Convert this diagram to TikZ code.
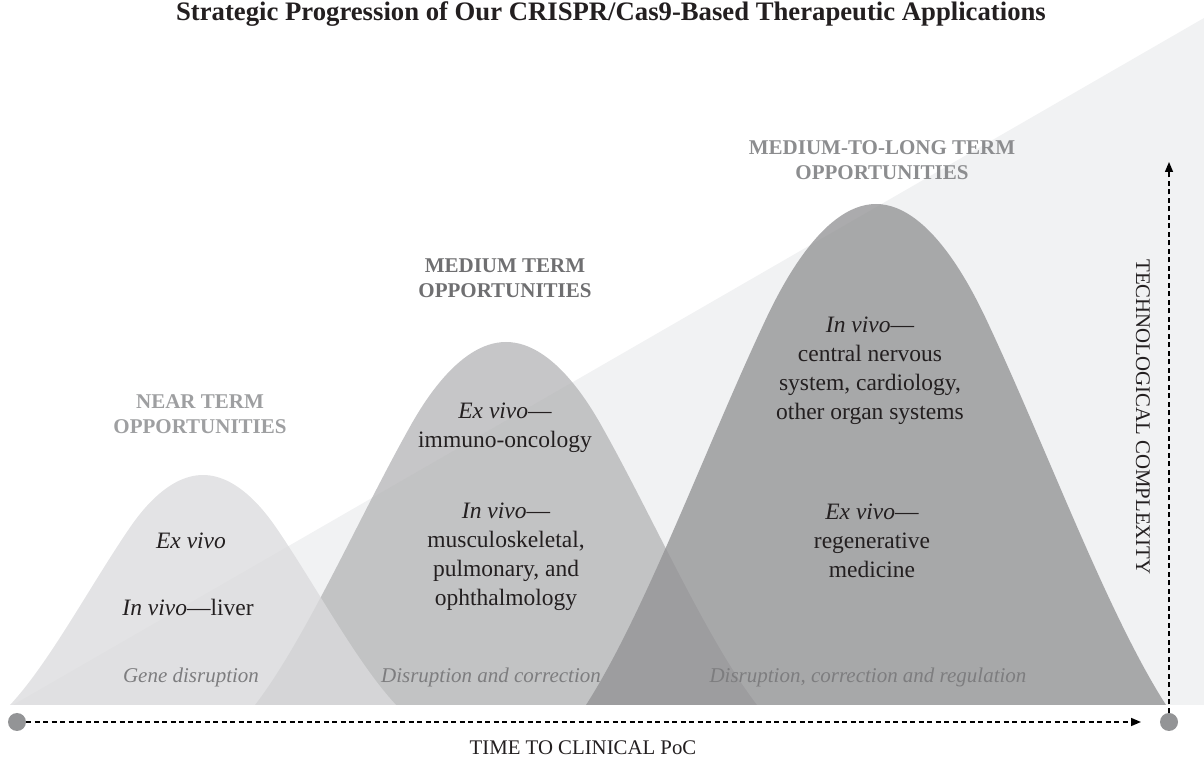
\documentclass[tikz,border=0pt]{standalone}
\usepackage{fontspec}
\setmainfont{Liberation Serif}
\usetikzlibrary{arrows.meta}

\definecolor{trianglegray}{RGB}{241,242,243}
\definecolor{neargray}{RGB}{219,219,221}
\definecolor{midgray}{RGB}{181,181,183}
\definecolor{longgray}{RGB}{146,146,148}
\definecolor{dotgray}{RGB}{147,148,150}
\definecolor{inkblack}{RGB}{35,31,32}
\definecolor{headnear}{RGB}{158,159,161}
\definecolor{headmid}{RGB}{111,111,113}
\definecolor{headlong}{RGB}{140,141,143}
\definecolor{taggray}{RGB}{125,125,127}

\tikzset{
  bodytext/.style={font=\fontsize{23.5}{29}\selectfont, text=inkblack, align=center, inner sep=0pt},
  headtext/.style={font=\fontsize{21}{25}\selectfont\bfseries, align=center, inner sep=0pt},
  tagtext/.style={font=\fontsize{21}{25}\selectfont\itshape, text=taggray, inner sep=0pt},
  axistext/.style={font=\fontsize{20.8}{25}\selectfont, text=inkblack, inner sep=0pt},
  enddot/.style={circle, fill=dotgray, minimum size=18pt, inner sep=0pt},
  axisline/.style={line width=1.5pt, dash pattern=on 5pt off 3.5pt, -{Triangle[length=10pt,width=8pt]}},
  bell/.style={fill opacity=0.77, draw=none},
}

% bell: centre, half width, height, colour
% flared flanks, parabolic cap
\newcommand{\bellshape}[4]{%
  \fill[bell, #4] ({#1-#2},52)
    .. controls ({#1-0.8*#2},{52+0.18*#3}) and ({#1-0.592*#2},{52+0.507*#3}) .. ({#1-0.392*#2},{52+0.755*#3})
    parabola bend ({#1},{52+#3}) ({#1+0.392*#2},{52+0.755*#3})
    .. controls ({#1+0.592*#2},{52+0.507*#3}) and ({#1+0.8*#2},{52+0.18*#3}) .. ({#1+#2},52)
    -- cycle;
}

\begin{document}
\begin{tikzpicture}[x=1pt,y=1pt]
\useasboundingbox (0,0) rectangle (1204,757);
\def\baseY{52}

% background wedge
\fill[trianglegray] (13,\baseY) -- (1204,739) -- (1204,\baseY) -- cycle;

% the three bells, middle one first
\bellshape{506}{251}{363}{midgray}
\bellshape{203}{193}{230}{neargray}
\bellshape{876}{290}{501}{longgray}

% title
\node [anchor=base, font=\fontsize{26.7}{30}\selectfont\bfseries, text=inkblack, inner sep=0pt] (title) at (611,736) {Strategic Progression of Our CRISPR/Cas9-Based Therapeutic Applications};

% headings
\node [headtext, text=headnear] (nearhead) at (200,342.5) {NEAR TERM\\OPPORTUNITIES};
\node [headtext, text=headmid] (midhead) at (505,479) {MEDIUM TERM\\OPPORTUNITIES};
\node [headtext, text=headlong] (longhead) at (882,596.5) {MEDIUM-TO-LONG TERM\\OPPORTUNITIES};

% near term
\node [bodytext] (nearex) at (191,216) {\textit{Ex vivo}};
\node [bodytext] (nearin) at (188,150) {\textit{In vivo}---liver};

% medium term
\node [bodytext] (midex) at (505,329.5) {\textit{Ex vivo}---\\immuno-oncology};
\node [bodytext] (midin) at (506,200.5) {\textit{In vivo}---\\musculoskeletal,\\pulmonary, and\\ophthalmology};

% medium-to-long term
\node [bodytext] (longin) at (870,386) {\textit{In vivo}---\\central nervous\\system, cardiology,\\other organ systems};
\node [bodytext] (longex) at (872,216) {\textit{Ex vivo}---\\regenerative\\medicine};

% base tags
\node [tagtext] (neartag) at (191,80) {Gene disruption};
\node [tagtext] (midtag) at (491,80) {Disruption and correction};
\node [tagtext] (longtag) at (868,80) {Disruption, correction and regulation};

% axes
\node [enddot] (tstart) at (17,35) {};
\node [enddot] (tend) at (1169,35) {};
\coordinate (timetip) at (1141,35);
\coordinate (techtip) at (1169,595);
\draw[axisline] (tstart) -- (timetip);
\draw[axisline] (tend) -- (techtip);
\node [axistext] (timelabel) at (583,9) {TIME TO CLINICAL PoC};
\node [axistext, rotate=-90] (techlabel) at (1143,340) {TECHNOLOGICAL COMPLEXITY};
\end{tikzpicture}
\end{document}
